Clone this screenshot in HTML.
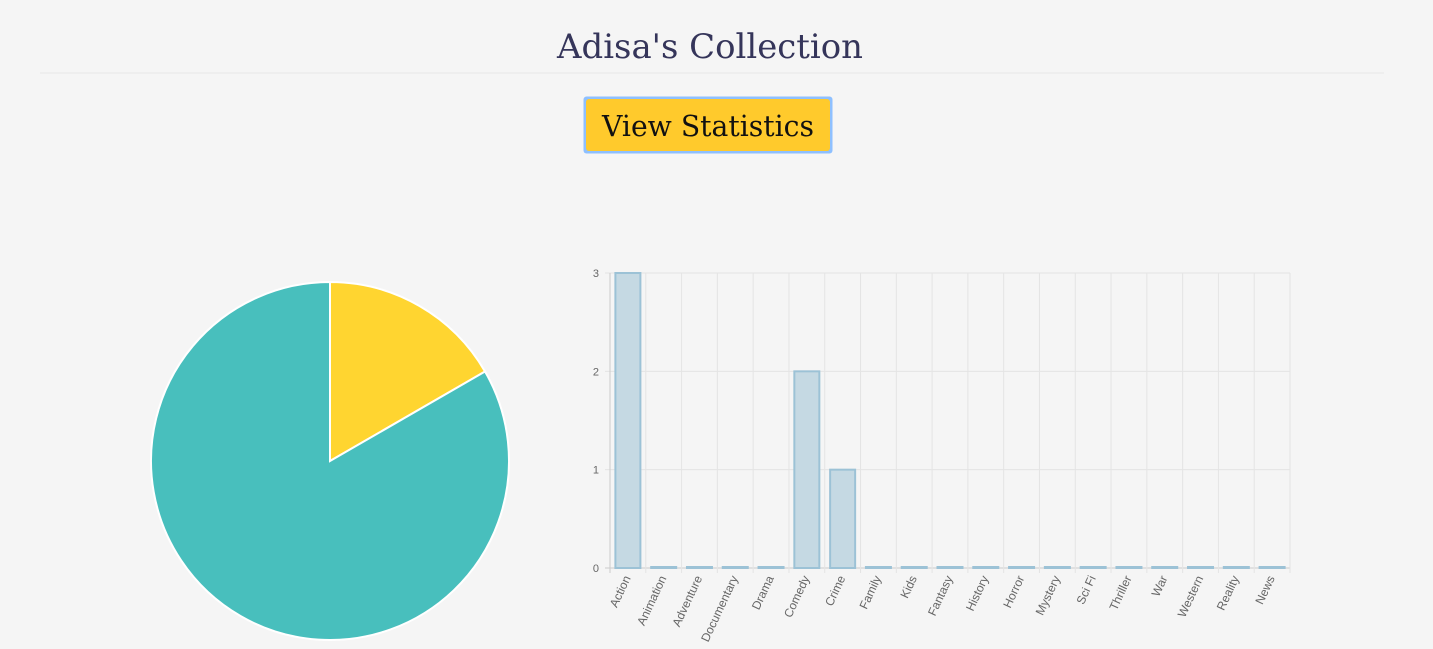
<!DOCTYPE html>
<html><head><meta charset="utf-8"><style>
html,body{margin:0;padding:0;background:#f5f5f5;width:1433px;height:649px;overflow:hidden}
svg{display:block}
</style></head><body>
<svg id="root" width="1433" height="649" xmlns="http://www.w3.org/2000/svg">
<rect width="1433" height="649" fill="#f5f5f5"/>
<text x="710" y="58" text-anchor="middle" font-family="'DejaVu Serif','Liberation Serif',serif" font-size="34" fill="#35355a" textLength="306" lengthAdjust="spacingAndGlyphs">Adisa's Collection</text>
<line x1="40" y1="73" x2="1384" y2="73" stroke="#e6e6e6"/>
<g>
<rect x="583.5" y="96.5" width="249" height="57" rx="3" fill="#8ec0ff"/>
<rect x="586" y="99" width="244" height="52" rx="3" fill="#ffca2c"/>
<text x="708" y="136" text-anchor="middle" font-family="'DejaVu Serif','Liberation Serif',serif" font-size="29" fill="#111" textLength="212" lengthAdjust="spacingAndGlyphs">View Statistics</text>
</g>
<g id="pie"></g>
<g id="bar"></g>
</svg>
<script>
const pieValues = [1, 5];
const pieColors = ['#ffd530', '#48bfbd'];
const pieLabels = ['Slice A', 'Slice B'];
const categories = ['Action','Animation','Adventure','Documentary','Drama','Comedy','Crime','Family','Kids','Fantasy','History','Horror','Mystery','Sci Fi','Thriller','War','Western','Reality','News'];
const counts = [3,0,0,0,0,2,1,0,0,0,0,0,0,0,0,0,0,0,0];
const yTicks = [0,1,2,3];

const NS='http://www.w3.org/2000/svg';
function mk(tag, attrs, parent){const e=document.createElementNS(NS,tag);for(const k in attrs)e.setAttribute(k,attrs[k]);parent.appendChild(e);return e;}

const pie=document.getElementById('pie');
const cx=330, cy=461, r=179;
const total=pieValues.reduce((a,b)=>a+b,0);
let ang=-Math.PI/2;
pieValues.forEach((v,i)=>{
  const a2=ang+v/total*2*Math.PI;
  const large=(a2-ang)>Math.PI?1:0;
  const d=`M${cx},${cy} L${cx+r*Math.cos(ang)},${cy+r*Math.sin(ang)} A${r},${r} 0 ${large} 1 ${cx+r*Math.cos(a2)},${cy+r*Math.sin(a2)} Z`;
  const p=mk('path',{d:d,fill:pieColors[i],stroke:'#fff','stroke-width':2},pie);
  
  
  ang=a2;
});

const bar=document.getElementById('bar');
const x0=610, x1=1290, yBase=568, yTop=273, yMax=3;
const step=(x1-x0)/categories.length;
const y=v=>yBase-(v/yMax)*(yBase-yTop);
const xc=i=>x0+step*(i+0.5);
yTicks.forEach(t=>{
  const g=mk('line',{x1:x0-5,x2:x1,y1:y(t),y2:y(t),stroke:t===0?'#ccc':'#e4e4e4'},bar);
  
  
  const tl=mk('text',{x:x0-11,y:y(t)+4,'text-anchor':'end','font-family':'Liberation Sans,sans-serif','font-size':11,fill:'#666'},bar);
  tl.textContent=t;
  
  
});
for(let i=0;i<=categories.length;i++){
  const gx=x0+step*i;
  const g=mk('line',{x1:gx,x2:gx,y1:yTop,y2:yBase+5,stroke:i===0?'#ccc':'#e4e4e4'},bar);
  
  
}
categories.forEach((c,i)=>{
  const bw=25;
  const h=Math.max(y(0)-y(counts[i]),0);
  const b=mk('rect',{x:xc(i)-bw/2,y:y(counts[i])-(h?0:1),width:bw,height:h||1,fill:'#c5d9e3',stroke:'#9cc2d6','stroke-width':2},bar);
  
  
  const lx=xc(i)+3, ly=yBase+10;
  const t=mk('text',{x:lx,y:ly,'text-anchor':'end','font-family':'Liberation Sans,sans-serif','font-size':12,fill:'#666',transform:`rotate(-65 ${lx} ${ly})`},bar);
  t.textContent=c;
  
  
});
</script>
</body></html>
